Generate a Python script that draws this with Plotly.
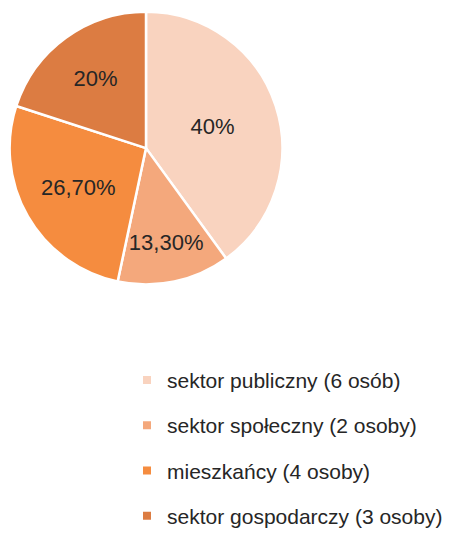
import plotly.graph_objects as go

labels = ['sektor publiczny (6 osób)', 'sektor społeczny (2 osoby)',
          'mieszkańcy (4 osoby)', 'sektor gospodarczy (3 osoby)']
values = [6, 2, 4, 3]
pct_text = ['40%', '13,30%', '26,70%', '20%']
colors = ['#F9D3BF', '#F4A87C', '#F58C3F', '#DC7C42']

font_name = 'Liberation Sans Narrow, Arial Narrow, Liberation Sans, sans-serif'

fig = go.Figure()
fig.add_trace(go.Pie(
    labels=labels, values=values, text=pct_text,
    textinfo='text', textposition='inside', insidetextorientation='horizontal',
    sort=False, direction='clockwise', rotation=0,
    marker=dict(colors=colors, line=dict(color='white', width=2.5)),
    textfont=dict(size=22, color='#262626', family=font_name),
    domain=dict(x=[8/473, 284/473], y=[1-291/537, 1-12/537]),
    showlegend=False, hoverinfo='label+percent'))

# legend entries (separate groups so the spacing can be set)
for i, lab in enumerate(labels):
    fig.add_trace(go.Scatter(
        x=[None], y=[None], mode='markers', name=lab, legendgroup=str(i),
        marker=dict(symbol='square', size=8, color=colors[i])))

fig.update_layout(
    width=473, height=537, margin=dict(l=0, r=0, t=0, b=0),
    paper_bgcolor='white', plot_bgcolor='white',
    xaxis=dict(visible=False), yaxis=dict(visible=False),
    legend=dict(x=127/473, y=1-368/537, xanchor='left', yanchor='top',
                font=dict(size=21, color='#262626', family=font_name),
                tracegroupgap=15, itemwidth=30),
)

fig.write_html("out.html", config={'displayModeBar': False},
               post_script="document.body.style.margin='0';")
